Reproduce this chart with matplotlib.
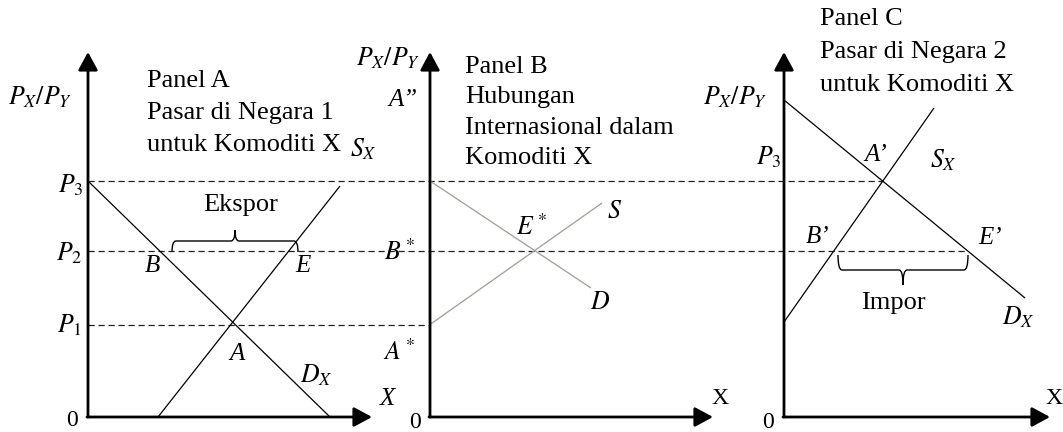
import matplotlib
matplotlib.use("Agg")
import matplotlib.pyplot as plt
from matplotlib.path import Path
from matplotlib.patches import PathPatch

plt.rcParams['font.family'] = ['Liberation Serif', 'DejaVu Serif']
plt.rcParams['mathtext.fontset'] = 'stix'

# Relative price levels (height above the quantity axis)
P1, P2, P3 = 92.5, 166.0, 236.0

# Horizontal position of each panel's origin and the length of its axes
origins = [88, 430, 784]
x_axis_end = [372, 713, 1050]
y_axis_top = 365

# Curves in each panel's own (quantity, price) units: ([q0, q1], [p0, p1])
demand_A = ([0, 242], [P3, 0])
supply_A = ([70, 252], [0, 231])
demand_B = ([0, 161], [P3, 129])
supply_B = ([0, 172], [P1, 214])
demand_C = ([0, 241], [317, 119])
supply_C = ([0, 150], [95, 309])

panel_titles = [
    ["Panel A", "Pasar di Negara 1", "untuk Komoditi X"],
    ["Panel B", "Hubungan", "Internasional dalam", "Komoditi X"],
    ["Panel C", "Pasar di Negara 2", "untuk Komoditi X"],
]

fig = plt.figure(figsize=(10.63, 4.32), dpi=100)
ax = fig.add_axes([0, 0, 1, 1])
ax.set_xlim(0, 1063)
ax.set_ylim(-15, 417)
ax.axis('off')


def q_at(line, p):
    (q0, q1), (p0, p1) = line
    return q0 + (p - p0) * (q1 - q0) / (p1 - p0)


def draw_line(i, line, **kw):
    q, p = line
    ax.plot([origins[i] + v for v in q], p, solid_capstyle='butt', **kw)


def brace(x1, x2, y_end, y_bar, y_tip, r=4):
    xm = (x1 + x2) / 2
    verts = [(x1, y_end), (x1, y_bar), (x1 + r, y_bar), (xm - r, y_bar),
             (xm, y_bar), (xm, y_tip),
             (x2, y_end), (x2, y_bar), (x2 - r, y_bar), (xm + r, y_bar),
             (xm, y_bar), (xm, y_tip)]
    codes = [Path.MOVETO, Path.CURVE3, Path.CURVE3, Path.LINETO,
             Path.CURVE3, Path.CURVE3] * 2
    ax.add_patch(PathPatch(Path(verts, codes), fill=False, lw=1.0,
                           edgecolor='black'))


# Axes with arrowheads
for o, xe in zip(origins, x_axis_end):
    style = dict(arrowstyle='-|>,head_length=0.5,head_width=0.27',
                 lw=2.0, color='black', mutation_scale=22,
                 shrinkA=0, shrinkB=0)
    ax.annotate('', xy=(o, y_axis_top), xytext=(o, 0), arrowprops=style)
    ax.annotate('', xy=(xe, 0), xytext=(o - 1, 0), arrowprops=style)

# Price lines running across the panels
dash = dict(color='#222222', lw=0.9, linestyle=(0, (5, 3)))
x_A3 = origins[2] + q_at(demand_C, P3)
x_E2 = origins[2] + q_at(demand_C, P2)
ax.plot([origins[0], x_A3], [P3, P3], **dash)
ax.plot([origins[0], x_E2], [P2, P2], **dash)
ax.plot([origins[0], origins[1]], [P1, P1], **dash)

# Demand and supply curves
dark = dict(color='black', lw=0.9)
grey = dict(color='#a5a59d', lw=1.0)
draw_line(0, demand_A, **dark)
draw_line(0, supply_A, **dark)
draw_line(1, demand_B, **grey)
draw_line(1, supply_B, **grey)
draw_line(2, demand_C, **dark)
draw_line(2, supply_C, **dark)

# Export and import braces
brace(origins[0] + 84, origins[0] + 210, 165, 176, 187)
brace(origins[2] + 54, origins[2] + 184, 162, 147, 132)

# Panel titles
title_x = [147, 465, 820]
title_y = [[336, 304, 272], [350, 320, 289, 259], [398, 365, 332]]
for tx, ys, lines in zip(title_x, title_y, panel_titles):
    for ty, s in zip(ys, lines):
        ax.text(tx, ty, s, fontsize=19, ha='left', va='center')

lab = dict(fontsize=18.5, ha='center', va='center')
ital = dict(fontsize=18, ha='center', va='center', style='italic')
roman = dict(fontsize=17, ha='center', va='center')
note = dict(fontsize=19, ha='center', va='center')

# Panel A labels
ax.text(40, 320, r'$P_X/P_Y$', **lab)
ax.text(71, 232, r'$P_3$', **lab)
ax.text(69, 164, r'$P_2$', **lab)
ax.text(69, 92, r'$P_1$', **lab)
ax.text(72, -4, '0', **roman)
ax.text(152, 151, 'B', **ital)
ax.text(303, 151, 'E', **ital)
ax.text(237, 63, 'A', **ital)
ax.text(316, 42, r'$D_X$', **lab)
ax.text(387, 18, 'X', **ital)
ax.text(363, 268, r'$S_X$', **lab)
ax.text(241, 212, 'Ekspor', **note)

# Panel B labels
ax.text(388, 359, r'$P_X/P_Y$', **lab)
ax.text(403, 317, 'A”', **ital)
ax.text(400, 165, r'$B^*$', **lab)
ax.text(399, 65, r'$A^*$', **lab)
ax.text(532, 190, r'$E^*$', **lab)
ax.text(615, 205, r'$S$', **lab)
ax.text(600, 114, r'$D$', **lab)
ax.text(720, 18, 'X', **roman)
ax.text(415, -5, '0', **roman)

# Panel C labels
ax.text(735, 320, r'$P_X/P_Y$', **lab)
ax.text(769, 260, r'$P_3$', **lab)
ax.text(768, -5, '0', **roman)
ax.text(1054, 18, 'X', **roman)
ax.text(876, 262, 'A’', **ital)
ax.text(943, 257, r'$S_X$', **lab)
ax.text(818, 180, 'B’', **ital)
ax.text(990, 179, 'E’', **ital)
ax.text(1018, 100, r'$D_X$', **lab)
ax.text(893, 114, 'Impor', **note)

fig.savefig('out.png', dpi=100, facecolor='white')
